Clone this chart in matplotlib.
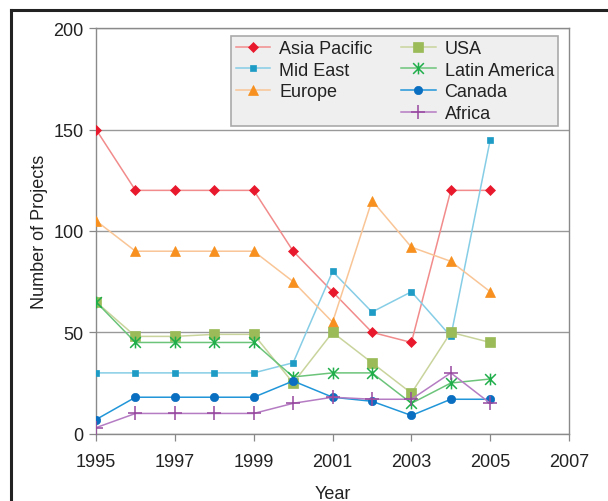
import matplotlib
matplotlib.use('Agg')
import matplotlib.pyplot as plt
from matplotlib.lines import Line2D
from matplotlib.path import Path

plt.rcParams['font.family'] = ['Liberation Sans', 'DejaVu Sans']

years = [1995, 1996, 1997, 1998, 1999, 2000, 2001, 2002, 2003, 2004, 2005]

asia_pacific = [150, 120, 120, 120, 120, 90, 70, 50, 45, 120, 120]
mid_east = [30, 30, 30, 30, 30, 35, 80, 60, 70, 48, 145]
europe = [105, 90, 90, 90, 90, 75, 55, 115, 92, 85, 70]
usa = [65, 48, 48, 49, 49, 25, 50, 35, 20, 50, 45]
latin_america = [65, 45, 45, 45, 45, 28, 30, 30, 15, 25, 27]
canada = [7, 18, 18, 18, 18, 26, 18, 16, 9, 17, 17]
africa = [3, 10, 10, 10, 10, 15, 18, 17, 17, 30, 15]

x_ticks = [1995, 1997, 1999, 2001, 2003, 2005, 2007]
y_ticks = [0, 50, 100, 150, 200]

# star marker: an x with a vertical stroke
star = Path([(-1, -1), (1, 1), (-1, 1), (1, -1), (0, -1.1), (0, 1.1)],
            [Path.MOVETO, Path.LINETO, Path.MOVETO, Path.LINETO, Path.MOVETO, Path.LINETO])

# name, values, line colour, marker colour, marker, size
series = [
    ('Asia Pacific', asia_pacific, '#f28b8b', '#e8192c', 'D', 5),
    ('Mid East', mid_east, '#86cde6', '#1f9cc6', 's', 5),
    ('Europe', europe, '#f9c596', '#f7901e', '^', 7),
    ('USA', usa, '#c9d49c', '#9bbb59', 's', 7.5),
    ('Latin America', latin_america, '#6cc47a', '#1fae4a', star, 8.5),
    ('Canada', canada, '#2196d8', '#0a6fc0', 'o', 6),
    ('Africa', africa, '#b57cc3', '#97489f', '+', 10),
]

fig = plt.figure(figsize=(6.08, 5.02), dpi=100)
ax = fig.add_axes([0.158, 0.134, 0.778, 0.808])

handles = {}
for name, vals, lc, mc, mk, ms in series:
    filled = mk in ('D', 's', '^', 'o')
    h, = ax.plot(years, vals, color=lc, lw=1.1, marker=mk, markersize=ms,
                 markerfacecolor=mc if filled else 'none', markeredgecolor=mc,
                 markeredgewidth=0.5 if filled else 1.1, label=name, zorder=3)
    handles[name] = h

ax.set_xlim(1995, 2007)
ax.set_ylim(0, 200)
ax.set_xticks(x_ticks)
ax.set_yticks(y_ticks)
ax.tick_params(direction='out', length=5, width=0.9, color='#888888',
               labelsize=13, labelcolor='#222222')
ax.tick_params(axis='x', pad=9)
ax.tick_params(axis='y', pad=4)
for s in ax.spines.values():
    s.set_color('#8a8a8a')
    s.set_linewidth(1.0)
ax.yaxis.grid(True, color='#999999', lw=1.0)
ax.set_axisbelow(True)

ax.set_xlabel('Year', fontsize=13, color='#222222', labelpad=11)
ax.set_ylabel('Number of Projects', fontsize=13, color='#222222', labelpad=4)

blank = Line2D([], [], linestyle='none')
order = ['Asia Pacific', 'Mid East', 'Europe', None, 'USA', 'Latin America', 'Canada', 'Africa']
leg_h = [handles[n] if n else blank for n in order]
leg_l = [n if n else '' for n in order]
leg = ax.legend(leg_h, leg_l, ncol=2, loc='upper right', bbox_to_anchor=(0.985, 0.99),
                fontsize=13, frameon=True, fancybox=False, handlelength=1.9,
                handletextpad=0.5, columnspacing=1.6, labelspacing=0.25,
                borderpad=0.25, borderaxespad=0.2)
leg.get_frame().set_facecolor('#efefef')
leg.get_frame().set_edgecolor('#aaaaaa')
leg.get_frame().set_linewidth(1.2)
leg.get_frame().set_alpha(1)
for t in leg.get_texts():
    t.set_color('#222222')

# outer frame, top and left edges
fig.add_artist(Line2D([0.0185, 1.0], [0.978, 0.978], color='#222222', lw=2.2, transform=fig.transFigure))
fig.add_artist(Line2D([0.0185, 0.0185], [0.0, 0.978], color='#222222', lw=2.2, transform=fig.transFigure))

fig.savefig('out.png', dpi=100)
